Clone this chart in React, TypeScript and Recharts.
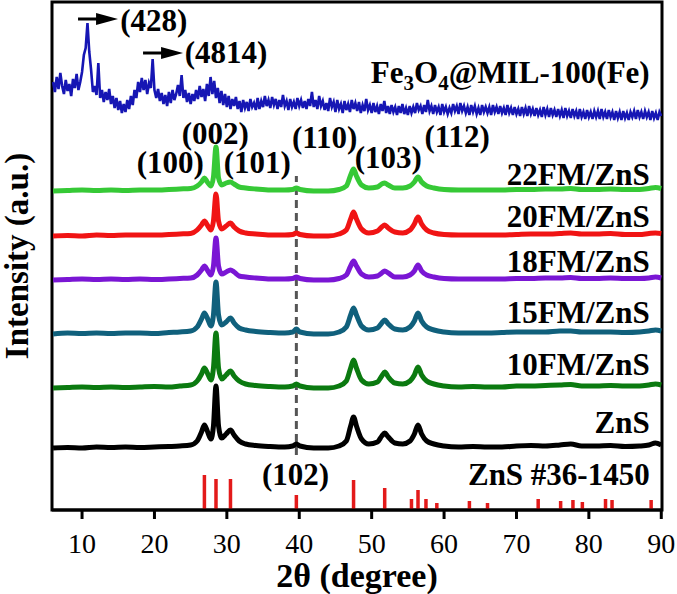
import React from "react";
import {
  ComposedChart,
  Line,
  XAxis,
  YAxis,
  ReferenceArea,
  ReferenceLine,
  ReferenceDot,
} from "recharts";

// ─── Data ─────────────────────────────────────────────────────────────────────

const X_MIN = 5.85;
const X_MAX = 90.1;
const Y_MAX = 508;
const X_TICKS = [10, 20, 30, 40, 50, 60, 70, 80, 90];

// Fe3O4@MIL-100(Fe): sampled every 0.25° from 6° to 90°
const FE_START = 6;
const FE_STEP = 0.25;
const FE_Y = [
  428, 418, 433, 421, 437, 424, 416, 430, 419, 426, 414, 431, 422, 436, 420, 428, 438, 455, 462, 487,
  458, 440, 418, 424, 415, 447, 412, 420, 408, 418, 410, 421, 406, 414, 402, 412, 400, 409, 397, 406,
  398, 410, 401, 414, 405, 420, 412, 428, 418, 432, 420, 430, 416, 427, 422, 451, 420, 412, 421, 409,
  417, 406, 415, 404, 418, 407, 420, 410, 416, 425, 414, 435, 412, 420, 408, 417, 406, 416, 409, 420,
  411, 424, 413, 421, 409, 426, 414, 433, 416, 429, 412, 422, 407, 419, 405, 416, 403, 414, 401, 411,
  404, 413, 401, 409, 398, 410, 402, 408, 399, 411, 403, 407, 400, 412, 401, 409, 403, 414, 404, 410,
  402, 413, 405, 411, 401, 410, 403, 415, 404, 409, 400, 411, 403, 408, 401, 412, 404, 410, 402, 409,
  401, 411, 404, 418, 403, 410, 401, 414, 404, 409, 400, 407, 399, 412, 403, 408, 398, 410, 401, 406,
  397, 409, 400, 406, 398, 410, 401, 407, 399, 408, 397, 405, 399, 411, 400, 405, 397, 407, 398, 404,
  396, 406, 399, 409, 397, 404, 396, 405, 398, 403, 395, 404, 397, 406, 396, 402, 395, 404, 397, 403,
  397, 407, 400, 404, 396, 405, 398, 410, 399, 404, 396, 405, 398, 403, 395, 406, 398, 403, 396, 402,
  397, 406, 399, 404, 396, 407, 399, 404, 397, 403, 395, 405, 398, 404, 396, 402, 395, 405, 398, 403,
  397, 403, 395, 405, 398, 403, 396, 404, 397, 402, 395, 405, 397, 402, 395, 403, 396, 401, 394, 403,
  396, 402, 394, 404, 396, 401, 394, 402, 395, 400, 393, 403, 395, 401, 393, 402, 395, 400, 393, 401,
  394, 400, 392, 402, 394, 399, 392, 401, 394, 399, 391, 401, 393, 398, 391, 400, 393, 398, 391, 399,
  393, 399, 391, 401, 393, 398, 391, 400, 393, 398, 390, 399, 392, 398, 390, 399, 392, 397, 390, 398,
  393, 399, 391, 400, 393, 398, 391, 399, 393, 398, 390, 399, 392, 397, 390, 398, 394,
];

// ZnS-based samples, shared 2θ positions
const ZNS_X = [
  6, 8, 10, 12, 14, 16, 18, 20, 22, 23.5,
  25, 25.9, 26.5, 26.9, 27.3, 27.8, 28.15, 28.5, 28.85, 29.3,
  29.9, 30.5, 31.0, 31.7, 32.6, 34, 36, 38, 39.1, 39.6,
  40.1, 42, 44, 45.5, 46.5, 47.1, 47.5, 47.9, 48.6, 49.6,
  50.8, 51.4, 51.8, 52.3, 53.2, 54.3, 55.3, 55.9, 56.4, 56.9,
  57.6, 58.6, 60, 62, 64, 66, 68, 70, 72, 74,
  76, 77.5, 79, 81, 83, 85, 87, 88.3, 89.2, 90,
];

const ZNS = [0, 0.5, 0, 1, 0.5, 1, 0.5, 1, 1.5, 2, 3, 7, 16, 23, 17, 9, 22, 62, 22, 10, 14, 18, 13, 7, 4, 2.5, 1.5, 1, 2, 4, 2, 0, 0, 2, 7, 22, 31, 22, 9, 4, 6, 12, 15, 11, 5, 4, 7, 14, 23, 14, 7, 4, 2, 1, 1.5, 1, 1, 2, 2.5, 2, 3, 4, 2, 2, 2.5, 1.5, 2, 3, 5, 3];
const FM10 = [0, 0.5, 1, 0.5, 1, 0.5, 1, 1.5, 1, 2, 3, 7, 14, 20, 15, 8, 20, 55, 20, 9, 13, 17, 12, 7, 4, 2.5, 1.5, 1, 2, 4, 2, 0, 0, 2, 7, 20, 28, 20, 8, 4, 6, 12, 16, 11, 5, 4, 7, 13, 21, 13, 7, 4, 2, 1, 1.5, 1, 1, 2, 2, 2.5, 3, 3.5, 2, 2, 2.5, 2, 2, 3, 4, 3];
const FM15 = [0, 1, 0.5, 1, 0.5, 1, 1, 0.5, 1.5, 2, 3, 7, 15, 21, 16, 8, 19, 52, 19, 9, 12, 16, 11, 6, 4, 2.5, 1.5, 1, 2, 5, 2, 0, 0, 2, 7, 19, 26, 19, 8, 4, 6, 11, 14, 10, 5, 4, 7, 13, 21, 13, 7, 4, 2, 1, 1, 1, 1.5, 2, 2, 2, 3, 3, 2, 2, 2, 1.5, 2, 3, 4, 3];
const FM18 = [0, 0.5, 1, 0.5, 1, 0.5, 1, 0.5, 1, 1.5, 2, 5, 10, 14, 10, 5, 14, 42, 14, 6, 8, 10, 8, 4, 3, 2, 1, 1, 1.5, 3, 1.5, 0, 0, 1.5, 5, 14, 19, 14, 6, 3, 4, 7, 9, 7, 3, 3, 5, 9, 15, 9, 5, 3, 1.5, 1, 1, 1, 1, 1.5, 1.5, 2, 2, 2.5, 1.5, 1.5, 2, 1.5, 1.5, 2, 3, 2];
const FM20 = [0, 0.5, 0, 1, 0.5, 1, 1, 1, 1.5, 2, 2.5, 6, 11, 15, 11, 6, 15, 42, 15, 7, 10, 13, 9, 5, 3, 2, 1, 1, 1.5, 3, 1.5, 0, 0, 2, 6, 17, 24, 17, 7, 3, 5, 9, 11, 8, 4, 3, 6, 12, 19, 12, 6, 3, 1.5, 1, 1, 1, 1, 1.5, 2, 2, 2.5, 3, 2, 2, 2.5, 1.5, 1.5, 2.5, 3, 2.5];
const FM22 = [0, 0.5, 1, 0.5, 1, 0.5, 1, 1, 1.5, 2, 2.5, 5, 9, 13, 9, 5, 14, 44, 13, 6, 8, 9, 7, 4, 3, 2, 1, 1, 1.5, 3, 1.5, 0, 0, 1.5, 5, 16, 22, 15, 6, 3, 4, 7, 8, 6, 3, 3, 5, 9, 14, 9, 5, 3, 1.5, 1, 1, 1, 1, 1.5, 1.5, 2, 2, 2.5, 1.5, 1.5, 2, 1.5, 1.5, 2.5, 3.5, 2.5];

// vertical offsets of the stacked patterns
const OFFSETS = { zns: 62, fm10: 122, fm15: 176, fm18: 230, fm20: 274, fm22: 319 };

// JCPDS 36-1450 reference lines
const STICK_X = [26.9, 28.5, 30.5, 39.6, 47.5, 51.8, 55.5, 56.4, 57.5, 59.0, 63.5, 66.0, 73.0, 76.1, 77.8, 79.1, 82.3, 83.2, 88.6];
const STICK_H = [35, 31, 31, 15, 30, 22, 11, 20, 11, 7, 9, 7, 11, 9, 10, 8, 11, 10, 10];

// ─── Helpers ──────────────────────────────────────────────────────────────────

const FONT = "'Liberation Serif', 'Times New Roman', serif";

const feData = FE_Y.map((y, i) => ({ x: FE_START + i * FE_STEP, y }));
const stacked = (vals: number[], off: number) => ZNS_X.map((x, i) => ({ x, y: vals[i] + off }));
const stickData = STICK_X.flatMap((x, i) => [
  { x, y: 0 },
  { x, y: STICK_H[i] },
  { x, y: null },
]);

const SERIES = [
  { key: "zns", vals: ZNS, color: "#000000" },
  { key: "fm10", vals: FM10, color: "#0b7a10" },
  { key: "fm15", vals: FM15, color: "#10607c" },
  { key: "fm18", vals: FM18, color: "#7a16d4" },
  { key: "fm20", vals: FM20, color: "#f01414" },
  { key: "fm22", vals: FM22, color: "#36c936" },
];

// eslint-disable-next-line @typescript-eslint/no-explicit-any
const txt = (content: React.ReactNode, anchor = "middle", size = 31) => (p: any) => (
  <text
    x={p.cx}
    y={p.cy}
    textAnchor={anchor}
    fontFamily={FONT}
    fontWeight="bold"
    fontSize={size}
    fill="#000"
  >
    {content}
  </text>
);

// eslint-disable-next-line @typescript-eslint/no-explicit-any
const arrow = (p: any) => (
  <g>
    <line x1={p.cx - 40} y1={p.cy} x2={p.cx - 20} y2={p.cy} stroke="#000" strokeWidth={3} />
    <path d={`M${p.cx - 22},${p.cy - 6} L${p.cx},${p.cy} L${p.cx - 22},${p.cy + 6} Z`} fill="#000" />
  </g>
);

// eslint-disable-next-line @typescript-eslint/no-explicit-any
function Tick(props: any) {
  const { x, y, payload } = props;
  return (
    <text x={x} y={y + 32} textAnchor="middle" fontFamily={FONT} fontSize={28} fill="#000">
      {payload.value}
    </text>
  );
}

const feLabel = (
  <>
    Fe<tspan dy={7} fontSize={21}>3</tspan>
    <tspan dy={-7}>O</tspan>
    <tspan dy={7} fontSize={21}>4</tspan>
    <tspan dy={-7}>@MIL-100(Fe)</tspan>
  </>
);

const NAME_X = 88.4;
const NAMES: [React.ReactNode, number][] = [
  [feLabel, 427],
  ["22FM/ZnS", 325],
  ["20FM/ZnS", 283],
  ["18FM/ZnS", 238],
  ["15FM/ZnS", 187],
  ["10FM/ZnS", 135],
  ["ZnS", 77],
  ["ZnS #36-1450", 25],
];

const HKL: [string, number, number][] = [
  ["(428)", 19.9, 479],
  ["(4814)", 29.9, 447],
  ["(002)", 28.4, 366],
  ["(100)", 22.2, 337],
  ["(101)", 34.2, 337],
  ["(110)", 43.5, 362],
  ["(103)", 52.3, 342],
  ["(112)", 61.8, 363],
  ["(102)", 39.5, 25],
];

const ARROWS: [number, number][] = [
  [14.97, 491],
  [23.95, 457],
];

// ─── Component ────────────────────────────────────────────────────────────────

export default function App() {
  return (
    <div style={{ position: "absolute", left: 0, top: 0, background: "#fff" }}>
      <ComposedChart width={677} height={594} margin={{ top: 2, right: 15, left: 0, bottom: 0 }}>
        <XAxis
          dataKey="x"
          type="number"
          domain={[X_MIN, X_MAX]}
          ticks={X_TICKS}
          allowDataOverflow
          height={84}
          axisLine={{ stroke: "#000", strokeWidth: 3 }}
          tickLine={{ stroke: "#000", strokeWidth: 3 }}
          tickSize={9}
          tick={<Tick />}
          // eslint-disable-next-line @typescript-eslint/no-explicit-any
          label={(p: any) => (
            <text
              x={p.viewBox.x + p.viewBox.width / 2}
              y={p.viewBox.y + 77}
              textAnchor="middle"
              fontFamily={FONT}
              fontWeight="bold"
              fontSize={34}
              fill="#000"
            >
              2θ (degree)
            </text>
          )}
        />
        <YAxis
          type="number"
          domain={[0, Y_MAX]}
          width={52}
          axisLine={false}
          tickLine={false}
          tick={false}
          label={() => (
            <text
              x={28}
              y={256}
              transform="rotate(-90, 28, 256)"
              textAnchor="middle"
              fontFamily={FONT}
              fontWeight="bold"
              fontSize={33}
              fill="#000"
            >
              Intensity (a.u.)
            </text>
          )}
        />

        <ReferenceLine
          segment={[{ x: 39.6, y: 55 }, { x: 39.6, y: 334 }]}
          stroke="#555"
          strokeWidth={3}
          strokeDasharray="8 5"
        />

        <Line
          data={stickData}
          dataKey="y"
          type="linear"
          stroke="#e31a1a"
          strokeWidth={3.5}
          dot={false}
          activeDot={false}
          connectNulls={false}
          isAnimationActive={false}
        />

        {SERIES.map((s) => (
          <Line
            key={s.key}
            data={stacked(s.vals, OFFSETS[s.key as keyof typeof OFFSETS])}
            dataKey="y"
            type="monotone"
            stroke={s.color}
            strokeWidth={5}
            dot={false}
            activeDot={false}
            isAnimationActive={false}
          />
        ))}

        <Line
          data={feData}
          dataKey="y"
          type="linear"
          stroke="#1616b4"
          strokeWidth={2.6}
          dot={false}
          activeDot={false}
          isAnimationActive={false}
        />

        <ReferenceArea
          x1={X_MIN}
          x2={X_MAX}
          y1={0}
          y2={Y_MAX}
          fill="none"
          stroke="#000"
          strokeWidth={3}
          ifOverflow="visible"
        />

        {NAMES.map(([label, y], i) => (
          <ReferenceDot key={"n" + i} x={NAME_X} y={y} r={0} shape={txt(label, "end")} />
        ))}
        {HKL.map(([label, x, y]) => (
          <ReferenceDot key={label} x={x} y={y} r={0} shape={txt(label)} />
        ))}
        {ARROWS.map(([x, y], i) => (
          <ReferenceDot key={"a" + i} x={x} y={y} r={0} shape={arrow} />
        ))}
      </ComposedChart>
    </div>
  );
}
